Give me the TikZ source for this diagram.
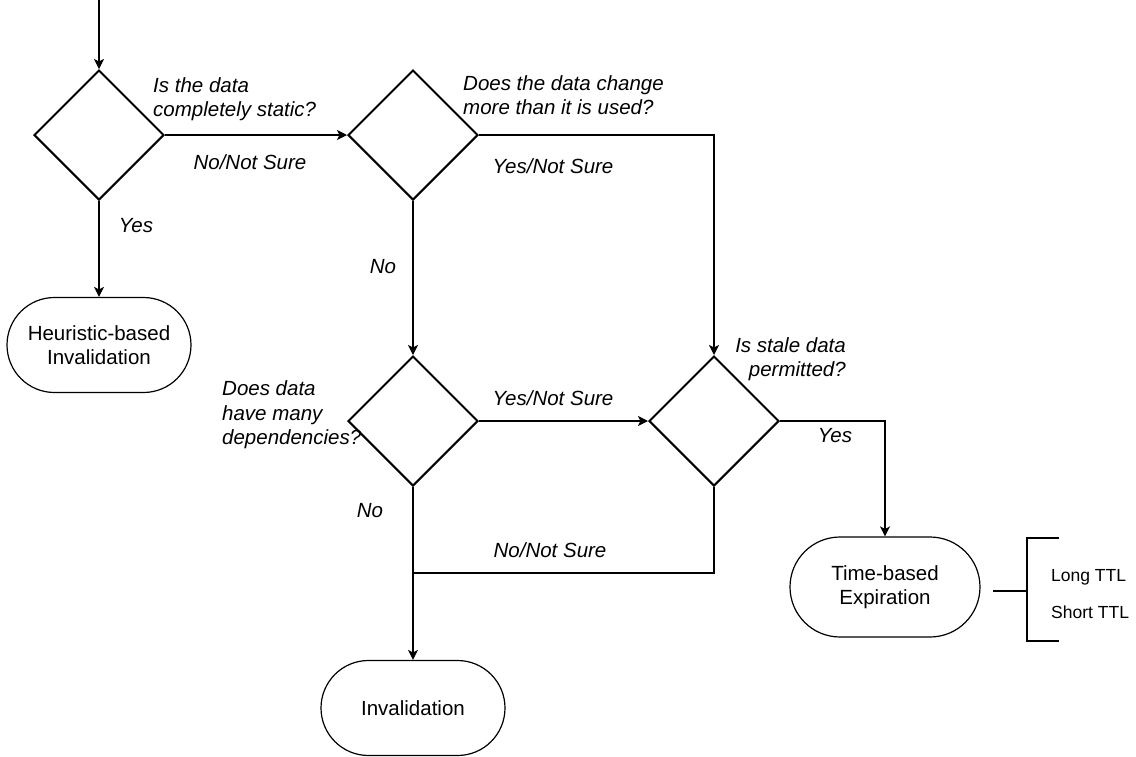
\documentclass[tikz,border=0pt]{standalone}
\usepackage{fontspec}
\setmainfont{Liberation Sans}
\usetikzlibrary{shapes.geometric,shapes.misc,arrows.meta}

\begin{document}
\begin{tikzpicture}[x=1pt,y=-1pt,
  every node/.style={font=\fontsize{20.5}{24.5}\selectfont},
  decision/.style={draw,diamond,aspect=1,minimum width=130pt,minimum height=130pt,inner sep=0pt,line width=2pt},
  terminal/.style={draw,rounded rectangle,line width=1.2pt,inner sep=0pt,align=center},
  conn/.style={line width=1.2pt,-{Stealth[length=10pt,width=10pt,inset=2.5pt]}},
  plain/.style={line width=1.2pt},
  brace/.style={line width=2.6pt},
  lbl/.style={font=\fontsize{20.5}{24.5}\selectfont\itshape,inner sep=0pt},
  ttl/.style={font=\fontsize{17.5}{21}\selectfont,inner sep=0pt,anchor=west}
]
\useasboundingbox (0,0) rectangle (1136,756);

% decisions
\node[decision] (d1) at (99,135) {};
\node[decision] (d2) at (413,135) {};
\node[decision] (d3) at (413,421) {};
\node[decision] (d4) at (714,421) {};

% outcomes
\node[terminal,minimum width=184pt,minimum height=95pt] (heur) at (99,345) {Heuristic-based\\Invalidation};
\node[terminal,minimum width=184pt,minimum height=95pt] (inv) at (413,708) {Invalidation};
\node[terminal,minimum width=190pt,minimum height=100pt] (time) at (885,587) {Time-based\\Expiration};

% helper points
\coordinate (start) at (99,0);
\coordinate (join) at (413,573);
\coordinate (brk) at (993,591);
\coordinate (brkv) at (1027,591);
\coordinate (brktop) at (1027,538);
\coordinate (brkbot) at (1027,641);
\coordinate (tickt) at (1059,538);
\coordinate (tickb) at (1059,641);

% connectors
\draw[conn] (start) -- (d1.north);
\draw[conn] (d1.east) -- (d2.west);
\draw[conn] (d1.south) -- (heur.north);
\draw[conn] (d2.east) -| (d4.north);
\draw[conn] (d2.south) -- (d3.north);
\draw[conn] (d3.east) -- (d4.west);
\draw[conn] (d3.south) -- (inv.north);
\draw[plain] (d4.south) |- (join);
\draw[conn] (d4.east) -| (time.north);

% TTL bracket
\draw[brace] (brk) -- (brkv);
\draw[brace] (tickt) -- (brktop) -- (brkbot) -- (tickb);
\node[ttl] (long) at (1051,577) {Long TTL};
\node[ttl] (short) at (1051,612) {Short TTL};

% questions and answers
\node[lbl,anchor=west,align=left] (q1) at (153,99) {Is the data\\completely static?};
\node[lbl] (a1n) at (250,162) {No/Not Sure};
\node[lbl] (a1y) at (136,226) {Yes};

\node[lbl,anchor=west,align=left] (q2) at (463,95) {Does the data change\\more than it is used?};
\node[lbl] (a2y) at (553,166) {Yes/Not Sure};
\node[lbl] (a2n) at (383,267) {No};

\node[lbl,anchor=west,align=left] (q3) at (222,415) {Does data\\have many\\dependencies?};
\node[lbl] (a3y) at (553,398) {Yes/Not Sure};
\node[lbl] (a3n) at (370,511) {No};

\node[lbl,anchor=east,align=right] (q4) at (846,359) {Is stale data\\permitted?};
\node[lbl] (a4y) at (835,436) {Yes};
\node[lbl] (a4n) at (550,550) {No/Not Sure};
\end{tikzpicture}
\end{document}
